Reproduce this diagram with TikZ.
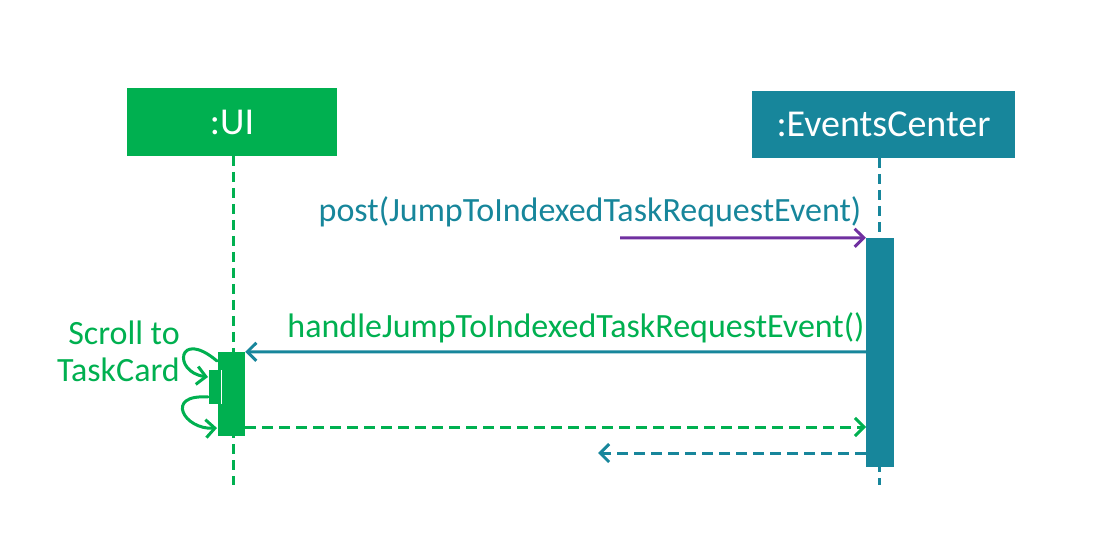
\documentclass[tikz,border=0pt]{standalone}
\usepackage{fontspec}
\setmainfont{Carlito}
\usetikzlibrary{arrows.meta}
\definecolor{grn}{HTML}{00B050}
\definecolor{teal2}{HTML}{17869B}
\definecolor{purp}{HTML}{7030A0}
\tikzset{
  actor/.style={draw=none,minimum height=68pt,text=white,font=\fontsize{38}{44}\selectfont,inner sep=0pt},
  life/.style={line width=3pt,dash pattern=on 10pt off 6pt},
  msg/.style={line width=3pt,-{Straight Barb[length=9pt,width=18pt,line width=3pt]}},
  ret/.style={msg,dash pattern=on 11pt off 6pt},
  lbl/.style={font=\fontsize{34}{40}\selectfont,inner sep=0pt},
  act/.style={inner sep=0pt,minimum width=28pt}
}
\begin{document}
\begin{tikzpicture}[x=1pt,y=-1pt]
\useasboundingbox (0,0) rectangle (1098,537);
% actors
\node[actor,fill=grn,minimum width=210pt] (ui) at (232,122) {:UI};
\node[actor,fill=teal2,minimum width=263pt,minimum height=67pt] (ec) at (883.5,124.5) {:EventsCenter};
% lifelines
\coordinate (uiend) at (233,485);
\coordinate (ecend) at (879,485);
\draw[life,grn] (233,156) -- (uiend);
\draw[life,teal2] (879,158) -- (ecend);
% activations
\fill[teal2] (866,238) rectangle (894,467);
\node[act,minimum width=28pt,minimum height=229pt] (eca) at (880,352.5) {};
\fill[grn] (218,352) rectangle (245,436);
\node[act,minimum width=27pt,minimum height=84pt] (uia) at (231.5,394) {};
\fill[grn] (209,370) rectangle (221,404);
\draw[white,line width=1.5pt] (221.5,370) -- (221.5,404);
\node[act,minimum width=12pt,minimum height=34pt] (uin) at (215,387) {};
% messages
\coordinate (postsrc) at (620,238);
\draw[msg,purp] (postsrc) -- (eca.north west);
\node[lbl,text=teal2] (postl) at (590,212) {post(JumpToIndexedTaskRequestEvent)};
\draw[msg,teal2] (866,352) -- (uia.north east);
\node[lbl,text=grn] (handl) at (576,328) {handleJumpToIndexedTaskRequestEvent()};
\draw[ret,grn] (245,427) -- (866,427);
\coordinate (retend) at (598,453);
\draw[ret,teal2] (866,453) -- (retend);
% self calls
\draw[msg,grn,line cap=round] (217,361) .. controls (178,328) and (172,372) .. (208,377);
\draw[msg,grn,line cap=round] (208,397) .. controls (164,394) and (184,430) .. (217,428);
\node[lbl,text=grn,align=right,anchor=east] (scl) at (180,351) {Scroll to\\[-3pt]TaskCard};
\end{tikzpicture}
\end{document}
